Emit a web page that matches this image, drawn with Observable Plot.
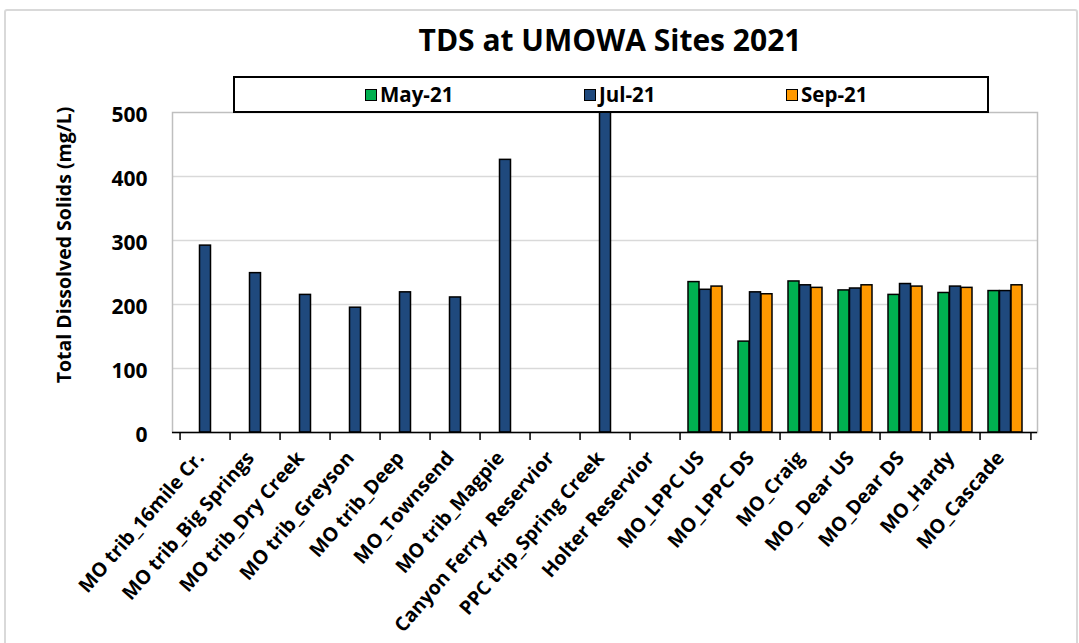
<!DOCTYPE html>
<html><head><meta charset="utf-8">
<script src="https://cdn.jsdelivr.net/npm/d3@7"></script>
<script src="https://cdn.jsdelivr.net/npm/@observablehq/plot@0.6"></script>
<style>
body{margin:0;background:#fff;font-family:"Open Sans",sans-serif;}
#wrap{position:relative;width:1079px;height:643px;overflow:hidden;background:#fff;}
#border{position:absolute;left:4px;top:9px;width:1070px;height:700px;border:2px solid #d9d9d9;border-radius:3px;}
#title{position:absolute;top:20px;left:0;width:1220px;text-align:center;font-weight:bold;font-size:30px;line-height:40px;color:#000;}
#chart{position:absolute;left:0;top:100px;}
#ylabel{position:absolute;left:63px;top:245px;width:0;height:0;}
#ylabel span{position:absolute;left:0;top:0;transform:translate(-50%,-50%) rotate(-90deg);white-space:nowrap;font-weight:bold;font-size:19.5px;color:#000;}
#legend{position:absolute;left:233px;top:76px;width:756px;height:37px;box-sizing:border-box;border:2px solid #000;background:#fff;z-index:5;}
.sw{position:absolute;top:11px;width:10px;height:10px;border:1.5px solid #000;}
.lt{position:absolute;top:3px;font-weight:bold;font-size:20.5px;line-height:26px;color:#000;}
svg text{white-space:pre;}
</style></head>
<body>
<div id="wrap">
  <div id="border"></div>
  <div id="title">TDS at UMOWA Sites 2021</div>
  <div id="ylabel"><span>Total Dissolved Solids (mg/L)</span></div>
  <div id="legend"></div>
  <div id="chart"></div>
</div>
<script>
const sites = ["MO trib_16mile Cr.", "MO trib_Big Springs", "MO trib_Dry Creek", "MO trib_Greyson", "MO trib_Deep", "MO_Townsend", "MO trib_Magpie", "Canyon Ferry  Reservior", "PPC trip_Spring Creek", "Holter Reservior", "MO_LPPC US", "MO_LPPC DS", "MO_Craig", "MO_ Dear US", "MO_Dear DS", "MO_Hardy", "MO_Cascade"];
const may21 = [null, null, null, null, null, null, null, null, null, null, 235, 142, 236, 222, 215, 218, 221];
const jul21 = [292, 249, 215, 195, 219, 211, 426, null, 520, null, 223, 219, 230, 225, 232, 228, 221];
const sep21 = [null, null, null, null, null, null, null, null, null, null, 228, 216, 226, 230, 228, 226, 230];
const seriesNames = ["May-21", "Jul-21", "Sep-21"];
const seriesColors = ["#00b050", "#1f497d", "#ff9900"];
const yTicks = [0, 100, 200, 300, 400, 500];

const rows = sites.map((s, i) => ({site: s, may: may21[i], jul: jul21[i], sep: sep21[i]}));

const W = 1079, H = 543, ML = 172, MR = 42, MT = 12, MB = 211;
const bw = (W - ML - MR) / sites.length;
const barStyle = {stroke: "#000", strokeWidth: 1.5};

const chart = Plot.plot({
  width: W, height: H,
  marginLeft: ML, marginRight: MR, marginTop: MT, marginBottom: MB,
  style: {fontFamily: "'Open Sans', sans-serif", color: "#000", background: "transparent"},
  x: {domain: sites, padding: 0, label: null, axis: null},
  y: {domain: [0, 500], label: null, axis: null},
  marks: [
    Plot.gridY([100, 200, 300, 400], {stroke: "#d9d9d9", strokeOpacity: 1, strokeWidth: 1.5}),
    Plot.frame({stroke: "#bfbfbf", strokeWidth: 1.5}),
    Plot.barY(rows.filter(d => d.may != null), {x: "site", y: "may", fill: seriesColors[0], ...barStyle, insetLeft: 8, insetRight: 31}),
    Plot.barY(rows.filter(d => d.jul != null), {x: "site", y: "jul", fill: seriesColors[1], ...barStyle, insetLeft: 19.5, insetRight: 19.5, clip: true}),
    Plot.barY(rows.filter(d => d.sep != null), {x: "site", y: "sep", fill: seriesColors[2], ...barStyle, insetLeft: 31, insetRight: 8}),
    Plot.ruleY([0], {stroke: "#000", strokeWidth: 1.5}),
    Plot.axisX({tickSize: 8, text: null, dx: -bw / 2, stroke: "#000", strokeWidth: 1.5}),
    Plot.axisX([sites[sites.length - 1]], {tickSize: 8, text: null, dx: bw / 2, stroke: "#000", strokeWidth: 1.5}),
    Plot.axisX({tickSize: 0, tickPadding: 22, tickRotate: -49, fontSize: 19.5, fontWeight: "bold", label: null, dx: -5}),
    Plot.axisY({ticks: yTicks, tickSize: 0, tickPadding: 25, fontSize: 21, fontWeight: "bold", label: null, dy: 3})
  ]
});
document.getElementById("chart").appendChild(chart);

const legend = document.getElementById("legend");
const swX = [130, 349, 551];
seriesNames.forEach((n, i) => {
  const sw = document.createElement("div");
  sw.className = "sw";
  sw.style.left = swX[i] + "px";
  sw.style.background = seriesColors[i];
  legend.appendChild(sw);
  const t = document.createElement("div");
  t.className = "lt";
  t.style.left = (swX[i] + 15) + "px";
  t.textContent = n;
  legend.appendChild(t);
});
</script>
</body></html>
